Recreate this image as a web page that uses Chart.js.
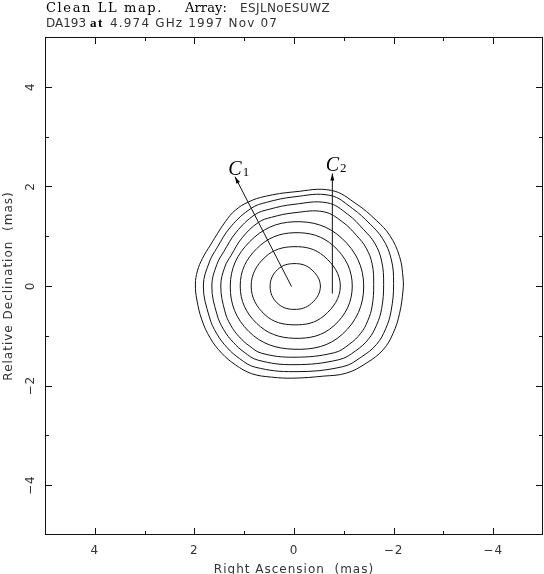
<!DOCTYPE html>
<html>
<head>
<meta charset="utf-8">
<script src="https://cdn.jsdelivr.net/npm/chart.js@4.4.0/dist/chart.umd.min.js"></script>
<style>
  html, body { margin: 0; padding: 0; background: #fff; }
  #wrap { position: relative; width: 544px; height: 574px; }
</style>
</head>
<body>
<div id="wrap"><canvas id="map"></canvas></div>
<script>
// Contours, innermost first. Points are [RA offset, Dec offset] in mas.
const contour1 = [[0.48,0],[0.33,0.33],[0,0.45],[-0.34,0.34],[-0.53,0],[-0.35,-0.35],[0,-0.47],[0.34,-0.34]];
const contour2 = [[0.86,0],[0.58,0.58],[0,0.79],[-0.60,0.60],[-0.93,0],[-0.60,-0.60],[0,-0.78],[0.58,-0.58]];
const contour3 = [[1.08,0],[0.75,0.75],[0,1.07],[-0.80,0.80],[-1.17,0],[-0.80,-0.80],[0,-1.05],[0.75,-0.75]];
const contour4 = [[1.28,0],[0.89,0.89],[0,1.29],[-0.96,0.96],[-1.40,0],[-0.97,-0.97],[0,-1.27],[0.91,-0.91]];
const contour5 = [[0,1.47],[-0.60,1.49],[-0.97,1.29],[-1.26,1.01],[-1.45,0.76],[-1.57,0.44],[-1.60,0.03],
  [-1.57,-0.40],[-1.48,-0.70],[-1.34,-0.95],[-1.11,-1.17],[-0.81,-1.34],[0,-1.43],[0.65,-1.35],[0.90,-1.20],
  [1.10,-1.02],[1.27,-0.79],[1.39,-0.50],[1.47,0],[1.39,0.38],[1.26,0.62],[1.04,0.97],[0.71,1.28],[0.45,1.38]];
const contour6 = [[0,1.64],[-0.67,1.67],[-1.08,1.44],[-1.40,1.13],[-1.62,0.86],[-1.76,0.50],[-1.80,0.03],
  [-1.76,-0.45],[-1.66,-0.78],[-1.50,-1.06],[-1.24,-1.30],[-0.90,-1.48],[0,-1.58],[0.72,-1.49],[1.00,-1.33],
  [1.22,-1.13],[1.41,-0.88],[1.55,-0.56],[1.65,0],[1.55,0.43],[1.41,0.69],[1.16,1.08],[0.79,1.43],[0.50,1.54]];
const contour7 = [[0,1.79],[-0.72,1.82],[-1.17,1.56],[-1.53,1.24],[-1.78,0.95],[-1.95,0.55],[-2.00,0.05],
  [-1.95,-0.50],[-1.84,-0.86],[-1.66,-1.17],[-1.36,-1.42],[-0.98,-1.62],[0,-1.72],[0.78,-1.63],[1.09,-1.46],
  [1.34,-1.24],[1.55,-0.96],[1.70,-0.62],[1.82,0],[1.70,0.48],[1.55,0.76],[1.27,1.19],[0.86,1.56],[0.55,1.68]];
const contour8 = [[0,1.89],[-0.75,1.92],[-1.25,1.65],[-1.65,1.32],[-1.92,1.02],[-2.12,0.59],[-2.19,0.16],
  [-2.19,-0.08],[-2.12,-0.55],[-1.99,-0.95],[-1.79,-1.28],[-1.45,-1.55],[-1.05,-1.75],[-0.59,-1.81],
  [0,-1.85],[0.45,-1.83],[0.85,-1.76],[1.18,-1.58],[1.45,-1.35],[1.68,-1.05],[1.85,-0.68],[1.95,-0.28],
  [1.98,0.04],[1.94,0.30],[1.84,0.55],[1.68,0.82],[1.38,1.29],[1.18,1.52],[0.91,1.69],[0.58,1.80]];
const contours = [contour1, contour2, contour3, contour4, contour5, contour6, contour7, contour8];

// component markers
const compNames = ['C', 'C'];
const compSubs = ['1', '2'];
const arrowFrom = [[0.05,-0.01],[-0.77,-0.15]];
const arrowTo = [[1.185,2.195],[-0.77,2.26]];

const axisTicks = [-4,-3,-2,-1,0,1,2,3,4];

function fmt(v) {
  if (v % 2 !== 0) return '';
  return v < 0 ? '\u2212' + Math.abs(v) : String(v);
}

// close each contour: wrap a point on both ends and hide those two segments
function closedLoop(pts) {
  const n = pts.length;
  const ring = [pts[n - 1]].concat(pts, [pts[0], pts[1]]);
  return ring.map(p => ({x: p[0], y: p[1]}));
}

const datasets = contours.map(c => {
  const data = closedLoop(c);
  const last = data.length - 1;
  return {
    data: data,
    showLine: true,
    borderColor: '#111',
    borderWidth: 1,
    pointRadius: 0,
    tension: 0.4,
    segment: {
      borderColor: s => (s.p0DataIndex === 0 || s.p1DataIndex === last) ? 'rgba(0,0,0,0)' : undefined
    }
  };
});

arrowFrom.forEach((p, i) => {
  datasets.push({
    data: [{x: p[0], y: p[1]}, {x: arrowTo[i][0], y: arrowTo[i][1]}],
    showLine: true,
    borderColor: '#111',
    borderWidth: 1,
    pointRadius: 0,
    tension: 0
  });
});

const spacing = {
  id: 'spacing',
  beforeDraw(chart) { chart.ctx.letterSpacing = '1px'; }
};

const frameTicks = {
  id: 'frameTicks',
  afterDatasetsDraw(chart) {
    const {ctx, chartArea: a, scales: {x, y}} = chart;
    ctx.save();
    ctx.strokeStyle = '#111';
    ctx.lineWidth = 1;
    ctx.strokeRect(a.left + 0.5, a.top + 0.5, a.right - a.left - 1, a.bottom - a.top - 1);
    ctx.beginPath();
    axisTicks.forEach(v => {
      const len = v % 2 === 0 ? 7 : 4;
      const px = Math.round(x.getPixelForValue(v)) + 0.5;
      ctx.moveTo(px, a.bottom); ctx.lineTo(px, a.bottom - len);
      ctx.moveTo(px, a.top); ctx.lineTo(px, a.top + len);
      const py = Math.round(y.getPixelForValue(v)) + 0.5;
      ctx.moveTo(a.left, py); ctx.lineTo(a.left + len, py);
      ctx.moveTo(a.right, py); ctx.lineTo(a.right - len, py);
    });
    ctx.stroke();

    // arrow heads and component labels
    ctx.fillStyle = '#000';
    ctx.letterSpacing = '0px';
    arrowTo.forEach((t, i) => {
      const tx = x.getPixelForValue(t[0]), ty = y.getPixelForValue(t[1]);
      const fx = x.getPixelForValue(arrowFrom[i][0]), fy = y.getPixelForValue(arrowFrom[i][1]);
      const ang = Math.atan2(ty - fy, tx - fx);
      ctx.beginPath();
      ctx.moveTo(tx, ty);
      ctx.lineTo(tx - 7 * Math.cos(ang) + 2 * Math.sin(ang), ty - 7 * Math.sin(ang) - 2 * Math.cos(ang));
      ctx.lineTo(tx - 7 * Math.cos(ang) - 2 * Math.sin(ang), ty - 7 * Math.sin(ang) + 2 * Math.cos(ang));
      ctx.closePath();
      ctx.fill();
      ctx.font = 'italic 20px "Liberation Serif"';
      ctx.textAlign = 'center';
      ctx.textBaseline = 'alphabetic';
      ctx.fillText(compNames[i], tx, ty - 2);
      const w = ctx.measureText(compNames[i]).width;
      ctx.font = '13px "Liberation Serif"';
      ctx.textAlign = 'left';
      ctx.fillText(compSubs[i], tx + w / 2 + 1, ty - 1);
    });
    ctx.restore();
  }
};

// header lines, PGPLOT style mixed fonts: [text, font, left, right]
const header = {
  id: 'header',
  afterDraw(chart) {
    const ctx = chart.ctx;
    const rows = [
      {base: 12, parts: [
        ['Clean LL map.', '13px "DejaVu Serif"', 46, 163],
        ['Array:', '13px "DejaVu Serif"', 185, 227],
        ['ESJLNoESUWZ', '12px "DejaVu Sans"', 240, 330]]},
      {base: 27, parts: [
        ['DA193', '12px "DejaVu Sans"', 46, 85],
        ['at', 'bold 13px "Liberation Serif"', 90, 104],
        ['4.974 GHz 1997 Nov 07', '12px "DejaVu Sans"', 110, 278]]}
    ];
    ctx.save();
    ctx.textAlign = 'left';
    ctx.textBaseline = 'alphabetic';
    rows.forEach(r => {
      r.parts.forEach(p => {
        ctx.font = p[1];
        ctx.letterSpacing = '0px';
        const w = ctx.measureText(p[0]).width;
        const ls = Math.max(0, (p[3] - p[2] - w) / p[0].length);
        ctx.letterSpacing = ls.toFixed(2) + 'px';
        ctx.fillStyle = p[1].indexOf('Serif') >= 0 ? '#000' : '#333';
        ctx.fillText(p[0], p[2], r.base);
      });
    });
    ctx.restore();
  }
};

const tickFont = {family: '"DejaVu Sans"', size: 12};

function fitX(s) { s.height = 39; s.paddingLeft = 0; s.paddingRight = 0; }
function fitY(s) { s.width = 45; s.paddingTop = 0; s.paddingBottom = 0; }

new Chart(document.getElementById('map'), {
  type: 'scatter',
  data: {datasets: datasets},
  options: {
    responsive: true,
    maintainAspectRatio: false,
    devicePixelRatio: 1,
    animation: false,
    layout: {padding: {top: 37, left: 0, right: 1, bottom: 0}},
    plugins: {legend: {display: false}, tooltip: {enabled: false}},
    scales: {
      x: {
        type: 'linear', min: -5, max: 5, reverse: true,
        afterFit: fitX,
        grid: {display: false, drawTicks: false},
        border: {display: false},
        ticks: {stepSize: 1, autoSkip: false, padding: 9, color: '#333', font: tickFont, callback: fmt},
        title: {display: true, text: 'Right Ascension  (mas)', color: '#333',
                font: {family: '"DejaVu Sans"', size: 12, lineHeight: 1}, padding: {top: 0, bottom: -2}}
      },
      y: {
        type: 'linear', min: -5, max: 5,
        afterFit: fitY,
        grid: {display: false, drawTicks: false},
        border: {display: false},
        ticks: {stepSize: 1, autoSkip: false, padding: 5, minRotation: 90, maxRotation: 90,
                crossAlign: 'center', color: '#333', font: tickFont, callback: fmt},
        title: {display: true, text: 'Relative Declination  (mas)', color: '#333',
                font: {family: '"DejaVu Sans"', size: 12, lineHeight: 1}, padding: {top: 3, bottom: 0}}
      }
    }
  },
  plugins: [spacing, frameTicks, header]
});
</script>
</body>
</html>
